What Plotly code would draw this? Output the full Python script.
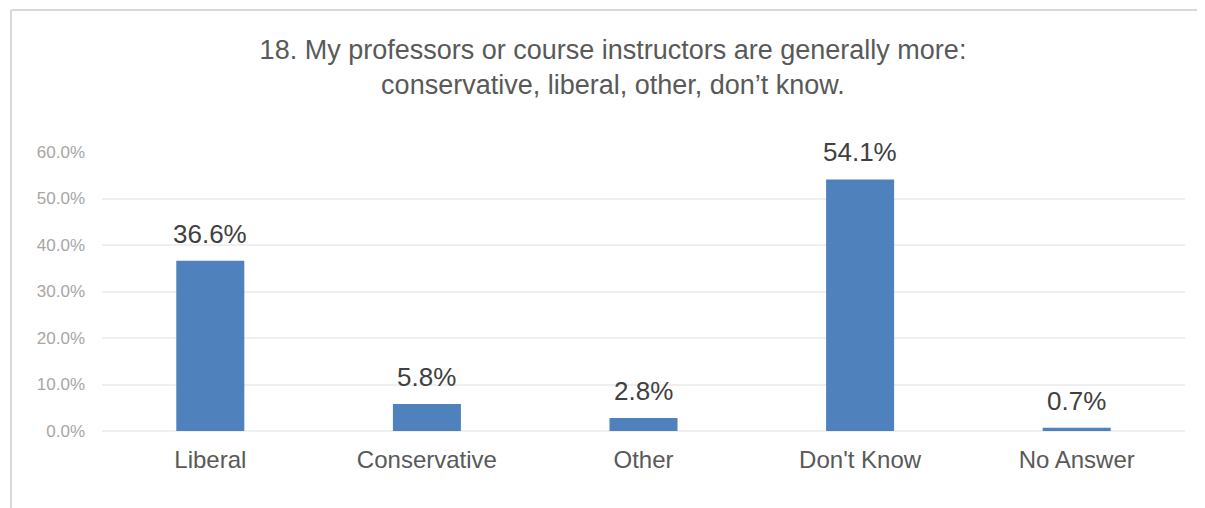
import plotly.graph_objects as go

categories = ["Liberal", "Conservative", "Other", "Don't Know", "No Answer"]
values = [36.6, 5.8, 2.8, 54.1, 0.7]
y_ticks = [0, 10, 20, 30, 40, 50, 60]
title_text = "18. My professors or course instructors are generally more:<br>conservative, liberal, other, don’t know."

# page body has an 8px default margin; figure sized to fill the rest of the window
W, H = 1197, 500
L, R, T, B = 94, 20, 144, 77
pw, ph = W - L - R, H - T - B

FONT = "Liberation Sans, Arial, sans-serif"

fig = go.Figure()
fig.add_trace(go.Bar(
    x=categories, y=values,
    marker=dict(color="#4F81BD", line=dict(width=0)),
    hoverinfo="skip",
))

for c, v in zip(categories, values):
    fig.add_annotation(
        x=c, y=v, xref="x", yref="y",
        text=f"{v:.1f}%", showarrow=False,
        yanchor="bottom", yshift=10,
        font=dict(family=FONT, size=26, color="#404040"),
    )

# chart frame: top and left edges (right/bottom lie outside the window)
bx0 = (3 - L) / pw
by1 = (H - B - 2) / ph
frame = dict(color="#D9D9D9", width=2)
fig.add_shape(type="line", xref="paper", yref="paper",
              x0=bx0, x1=(W - L) / pw, y0=by1, y1=by1, line=frame, layer="below")
fig.add_shape(type="line", xref="paper", yref="paper",
              x0=bx0, x1=bx0, y0=-B / ph, y1=by1, line=frame, layer="below")

fig.update_layout(
    width=W, height=H,
    margin=dict(l=L, r=R, t=T, b=B, autoexpand=False),
    paper_bgcolor="white", plot_bgcolor="white",
    bargap=0.686,
    showlegend=False,
    font=dict(family=FONT),
    title=dict(
        text=title_text,
        x=605 / W, xref="container", xanchor="center",
        y=1 - 51 / H, yref="container", yanchor="top",
        font=dict(size=27, color="#595959"),
    ),
    xaxis=dict(
        showgrid=False, showline=False, zeroline=False, ticks="",
        tickfont=dict(size=24, color="#595959"),
        ticklabelstandoff=12,
    ),
    yaxis=dict(
        range=[0, 60], tickvals=y_ticks,
        ticktext=[f"{t:.1f}%" for t in y_ticks],
        showgrid=True, gridcolor="#EFEFEF", gridwidth=2,
        zeroline=True, zerolinecolor="#EFEFEF", zerolinewidth=2,
        showline=False, ticks="",
        tickfont=dict(size=17, color="#A6A6A6"),
        ticklabelstandoff=16,
    ),
)

fig.write_html("out.html", post_script="document.body.style.overflow='hidden';")
